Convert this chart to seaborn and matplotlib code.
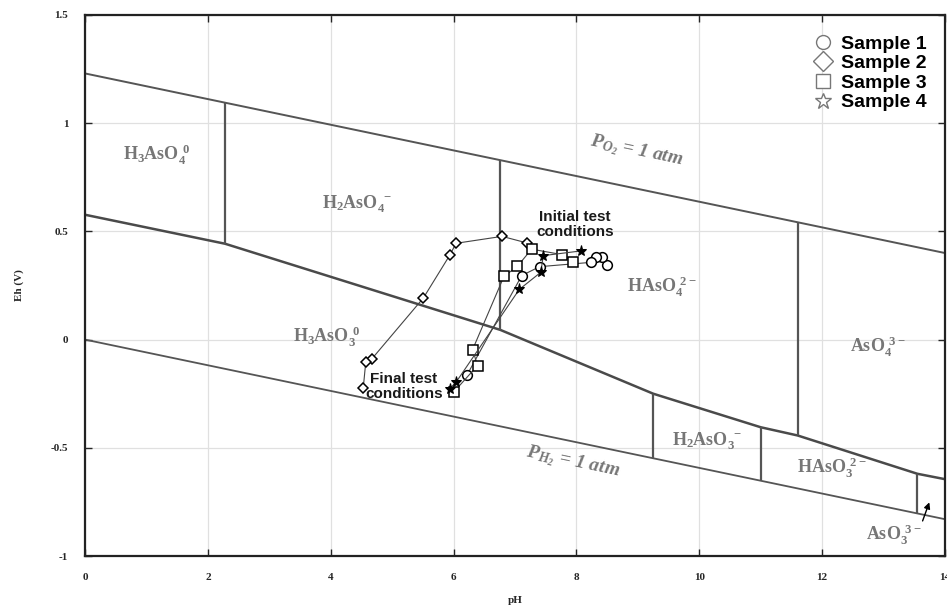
import matplotlib
matplotlib.use("Agg")
import matplotlib.pyplot as plt
from matplotlib.lines import Line2D
import pandas as pd
import seaborn as sns

# ---- Eh-pH diagram of the As-O-H system ----
# water stability limits
o2_ph = [0.0, 14.0]
o2_eh = [1.23, 0.40]
h2_ph = [0.0, 14.0]
h2_eh = [0.0, -0.83]

# As(V) / As(III) boundary
redox_ph = [0.0, 2.28, 6.76, 9.25, 11.0, 11.6, 13.55, 14.0]
redox_eh = [0.577, 0.443, 0.045, -0.25, -0.405, -0.443, -0.62, -0.645]

# acid-base boundaries (pH, upper Eh, lower Eh)
vert_ph = [2.28, 6.76, 11.6, 9.25, 11.0, 13.55]
vert_top = [1.095, 0.830, 0.543, -0.250, -0.405, -0.620]
vert_bot = [0.443, 0.045, -0.443, -0.548, -0.651, -0.803]

# species labels
species_text = [r"$\mathregular{H_3AsO_4^{\ 0}}$", r"$\mathregular{H_2AsO_4^{\ -}}$",
                r"$\mathregular{H_3AsO_3^{\ 0}}$", r"$\mathregular{HAsO_4^{\ 2-}}$",
                r"$\mathregular{AsO_4^{\ 3-}}$", r"$\mathregular{H_2AsO_3^{\ -}}$",
                r"$\mathregular{HAsO_3^{\ 2-}}$", r"$\mathregular{AsO_3^{\ 3-}}$"]
species_ph = [0.62, 3.85, 3.39, 8.82, 12.45, 9.55, 11.59, 12.72]
species_eh = [0.827, 0.605, -0.012, 0.217, -0.06, -0.49, -0.62, -0.93]

# measured test trajectories
s1_ph = [8.50, 8.41, 8.32, 8.24, 7.40, 7.11, 6.22]
s1_eh = [0.346, 0.383, 0.380, 0.357, 0.337, 0.296, -0.163]
s2_ph = [7.19, 6.79, 6.04, 5.94, 5.51, 4.67, 4.57, 4.53]
s2_eh = [0.447, 0.477, 0.445, 0.391, 0.193, -0.089, -0.105, -0.223]
s3_ph = [7.95, 7.76, 7.27, 7.04, 6.82, 6.31, 6.39, 6.01]
s3_eh = [0.357, 0.393, 0.418, 0.339, 0.292, -0.046, -0.120, -0.240]
s4_ph = [8.08, 7.46, 7.42, 7.07, 6.04, 5.94]
s4_eh = [0.410, 0.388, 0.311, 0.232, -0.197, -0.226]

sample_names = ["Sample 1", "Sample 2", "Sample 3", "Sample 4"]
sample_markers = ["o", "D", "s", "*"]

x_ticks = [0, 2, 4, 6, 8, 10, 12, 14]
y_ticks = [-1, -0.5, 0, 0.5, 1, 1.5]
y_tick_labels = ["-1", "-0.5", "0", "0.5", "1", "1.5"]

sns.set_style("ticks")
plt.rcParams["font.family"] = ["Liberation Serif", "DejaVu Serif"]
plt.rcParams["mathtext.default"] = "regular"

fig = plt.figure(figsize=(9.47, 6.06), dpi=100)
ax = fig.add_axes([85 / 947, 50 / 606, 860 / 947, 541 / 606])

line_col = "#555555"
label_col = "#767676"

# field boundaries
ax.plot(o2_ph, o2_eh, color=line_col, lw=1.4, zorder=2)
ax.plot(h2_ph, h2_eh, color=line_col, lw=1.3, zorder=2)
ax.plot(redox_ph, redox_eh, color="#4a4a4a", lw=1.8, zorder=2)
ax.vlines(vert_ph, vert_bot, vert_top, color=line_col, lw=1.6, zorder=2)

# trajectories
frames = []
for name, xs, ys in zip(sample_names, [s1_ph, s2_ph, s3_ph, s4_ph],
                        [s1_eh, s2_eh, s3_eh, s4_eh]):
    frames.append(pd.DataFrame({"pH": xs, "Eh": ys, "sample": name,
                                "order": range(len(xs))}))
df = pd.concat(frames, ignore_index=True)

for name, mk in zip(sample_names, sample_markers):
    sub = df[df["sample"] == name]
    if mk == "*":
        kw = dict(markerfacecolor="black", markeredgecolor="black", markersize=8)
    else:
        kw = dict(markerfacecolor="white", markeredgecolor="black",
                  markersize=7 if mk != "D" else 5.5, markeredgewidth=1.1)
    sns.lineplot(data=sub, x="pH", y="Eh", sort=False, estimator=None, ax=ax,
                 color="#444444", lw=0.8, marker=mk, zorder=4, **kw)

# species labels
for t, x, y in zip(species_text, species_ph, species_eh):
    ax.text(x, y, t, color=label_col, fontsize=13, fontweight="bold",
            ha="left", va="baseline", zorder=3)

ax.text(8.97, 0.873, r"$\mathregular{P_{O_2}}$ = 1 atm", color=label_col,
        fontsize=14, fontweight="bold", style="italic", rotation=-11.8,
        ha="center", va="center", rotation_mode="anchor")
ax.text(7.94, -0.568, r"$\mathregular{P_{H_2}}$ = 1 atm", color=label_col,
        fontsize=14, fontweight="bold", style="italic", rotation=-11.8,
        ha="center", va="center", rotation_mode="anchor")

ax.text(7.98, 0.533, "Initial test\nconditions", family="Liberation Sans",
        fontweight="bold", fontsize=11, ha="center", va="center",
        linespacing=1.05, color="#1a1a1a", zorder=5)
ax.text(5.19, -0.217, "Final test\nconditions", family="Liberation Sans",
        fontweight="bold", fontsize=11, ha="center", va="center",
        linespacing=1.05, color="#1a1a1a", zorder=5)

ax.annotate("", xy=(13.76, -0.74), xytext=(13.62, -0.85),
            arrowprops=dict(arrowstyle="-|>", color="black", lw=1.0,
                            mutation_scale=9))

# axes styling
ax.set_xlim(0, 14)
ax.set_ylim(-1, 1.5)
ax.set_xticks(x_ticks)
ax.set_yticks(y_ticks)
ax.set_yticklabels(y_tick_labels)
ax.grid(True, color="#e0e0e0", lw=0.9, zorder=0)
ax.set_axisbelow(True)
ax.tick_params(direction="in", top=True, right=True, length=5, width=1.0,
               labelsize=8, pad=12)
for lab in ax.get_xticklabels() + ax.get_yticklabels():
    lab.set_fontweight("bold")
for sp in ax.spines.values():
    sp.set_linewidth(1.6)
    sp.set_color("#222222")

ax.set_xlabel("pH", fontsize=8, fontweight="bold", labelpad=10)
ax.set_ylabel("Eh (V)", fontsize=8, fontweight="bold", labelpad=19)

handles = [Line2D([], [], linestyle="none", marker=m, markerfacecolor="white",
                  markeredgecolor="#777777", markersize=10 if m != "*" else 12,
                  markeredgewidth=1.0) for m in sample_markers]
leg = ax.legend(handles, sample_names, loc="upper left",
                bbox_to_anchor=(0.832, 0.988), frameon=False,
                prop=dict(family="Liberation Sans", weight="bold", size=14),
                handlelength=0.9, handletextpad=0.5, labelspacing=0.1,
                borderpad=0.2)
for txt in leg.get_texts():
    txt.set_color("black")

fig.savefig("out.png", dpi=100)
